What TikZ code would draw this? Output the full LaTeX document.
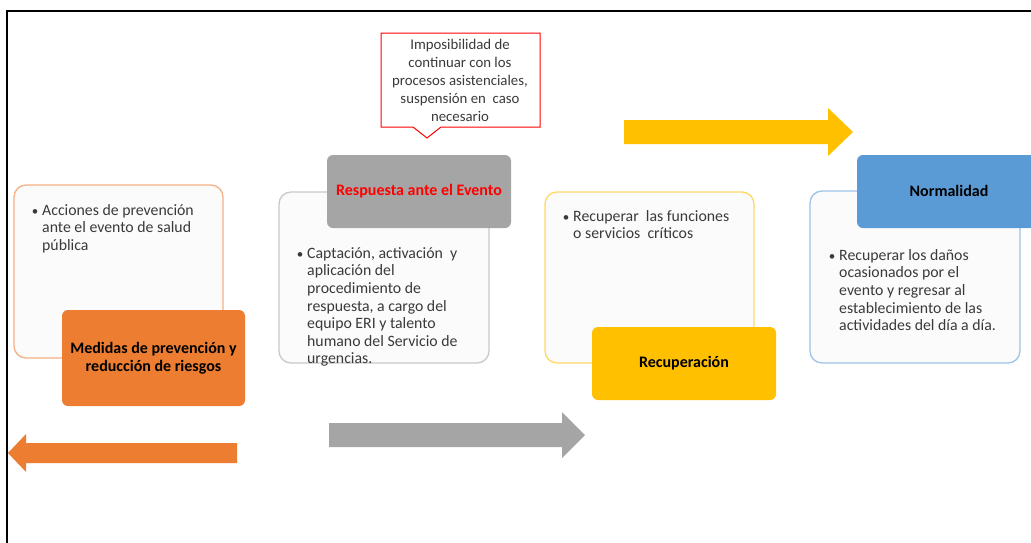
\documentclass[tikz,border=0pt]{standalone}
\usepackage{fontspec}
\setmainfont{Carlito}
\definecolor{cOrange}{HTML}{ED7D31}
\definecolor{cOrangeL}{HTML}{F4B183}
\definecolor{cGray}{HTML}{A5A5A5}
\definecolor{cGrayL}{HTML}{C9C9C9}
\definecolor{cYellow}{HTML}{FFC000}
\definecolor{cYellowL}{HTML}{FFD966}
\definecolor{cBlue}{HTML}{5B9BD5}
\definecolor{cBlueL}{HTML}{9DC3E6}
\definecolor{cText}{HTML}{3A3A3A}
\definecolor{cPanel}{HTML}{FBFBFB}
\tikzset{
  panel/.style={draw, fill=cPanel, line width=1.3pt, rounded corners=12pt, inner sep=0pt, outer sep=0pt, anchor=north west},
  titlebox/.style={rounded corners=6pt, inner sep=0pt, outer sep=0pt, anchor=north west},
  ttl/.style={font=\fontsize{16}{18.5}\selectfont\bfseries, align=center, text=black, inner sep=0pt},
  bodytext/.style={font=\fontsize{15.8}{17.6}\selectfont, align=left, text=cText, inner sep=0pt, anchor=north west},
  bul/.style={font=\fontsize{13}{14}\selectfont, text=cText, inner sep=0pt, anchor=base},
  calltext/.style={font=\fontsize{14.8}{18}\selectfont, align=center, text=cText, inner sep=0pt},
  blockarrow/.style={draw=none}
}
\begin{document}
\begin{tikzpicture}[x=1pt,y=-1pt]
\clip (0,0) rectangle (1031,542);
\fill[white] (0,0) rectangle (1031,542);
% frame
\draw[line width=2pt, black] (7,560) -- (7,10.5) -- (1060,10.5);

% ---- group 1: prevention
\node[panel, draw=cOrangeL, minimum width=209pt, minimum height=173pt] (p1) at (14,185) {};
\node[bul] (b1) at (35,215) {•};
\node[bodytext] (t1) at (42,202) {\rule{0pt}{13pt}Acciones de prevención\\ante el evento de salud\\pública};
\node[titlebox, fill=cOrange, minimum width=183pt, minimum height=96pt] (h1) at (62,310) {};
\node[ttl] (h1t) at (h1.center) {Medidas de prevención y\\reducción de riesgos};

% ---- group 2: response
\node[panel, draw=cGrayL, minimum width=210pt, minimum height=171pt] (p2) at (279,192) {};
\node[titlebox, fill=cGray, minimum width=184pt, minimum height=73pt] (h2) at (327,155) {};
\node[ttl, text=red] (h2t) at (h2.center) {Respuesta ante el Evento};
\node[bul] (b2) at (300,258) {•};
\node[bodytext] (t2) at (307,245) {\rule{0pt}{13pt}Captación, activación\ \ y\\aplicación del\\procedimiento de\\respuesta, a cargo del\\equipo ERI y talento\\humano del Servicio de\\urgencias.};

% callout
\draw[red, line width=1pt, fill=white] (381,33) -- (540,33) -- (540,127) -- (441,127) -- (427,138) -- (413,127) -- (381,127) -- cycle;
\node[calltext] (c1) at (460,80) {Imposibilidad de\\continuar con los\\procesos asistenciales,\\suspensión en\ \ caso\\necesario};

% ---- group 3: recovery
\node[panel, draw=cYellowL, minimum width=209pt, minimum height=171pt] (p3) at (545,192) {};
\node[bul] (b3) at (566,221) {•};
\node[bodytext] (t3) at (573,208) {\rule{0pt}{13pt}Recuperar\ \ las funciones\\o servicios\ \ críticos};
\node[titlebox, fill=cYellow, minimum width=184pt, minimum height=73pt] (h3) at (592,327) {};
\node[ttl] (h3t) at (h3.center) {Recuperación};

% ---- group 4: normality
\node[panel, draw=cBlueL, minimum width=210pt, minimum height=172pt] (p4) at (810,191) {};
\node[titlebox, fill=cBlue, minimum width=184pt, minimum height=73pt] (h4) at (857,155) {};
\node[ttl] (h4t) at (949,191) {Normalidad};
\node[bul] (b4) at (832,260) {•};
\node[bodytext] (t4) at (839,247) {\rule{0pt}{13pt}Recuperar\ los daños\\ocasionados por el\\evento y regresar al\\establecimiento de las\\actividades\ del día a día.};

% ---- block arrows
\fill[cYellow] (624,120) -- (828,120) -- (828,108) -- (853,132) -- (828,156) -- (828,144) -- (624,144) -- cycle;
\fill[cGray] (329,423) -- (562,423) -- (562,412) -- (585,435) -- (562,458) -- (562,447) -- (329,447) -- cycle;
\fill[cOrange] (237,443) -- (26,443) -- (26,434) -- (8,453) -- (26,472) -- (26,463) -- (237,463) -- cycle;
\end{tikzpicture}
\end{document}
